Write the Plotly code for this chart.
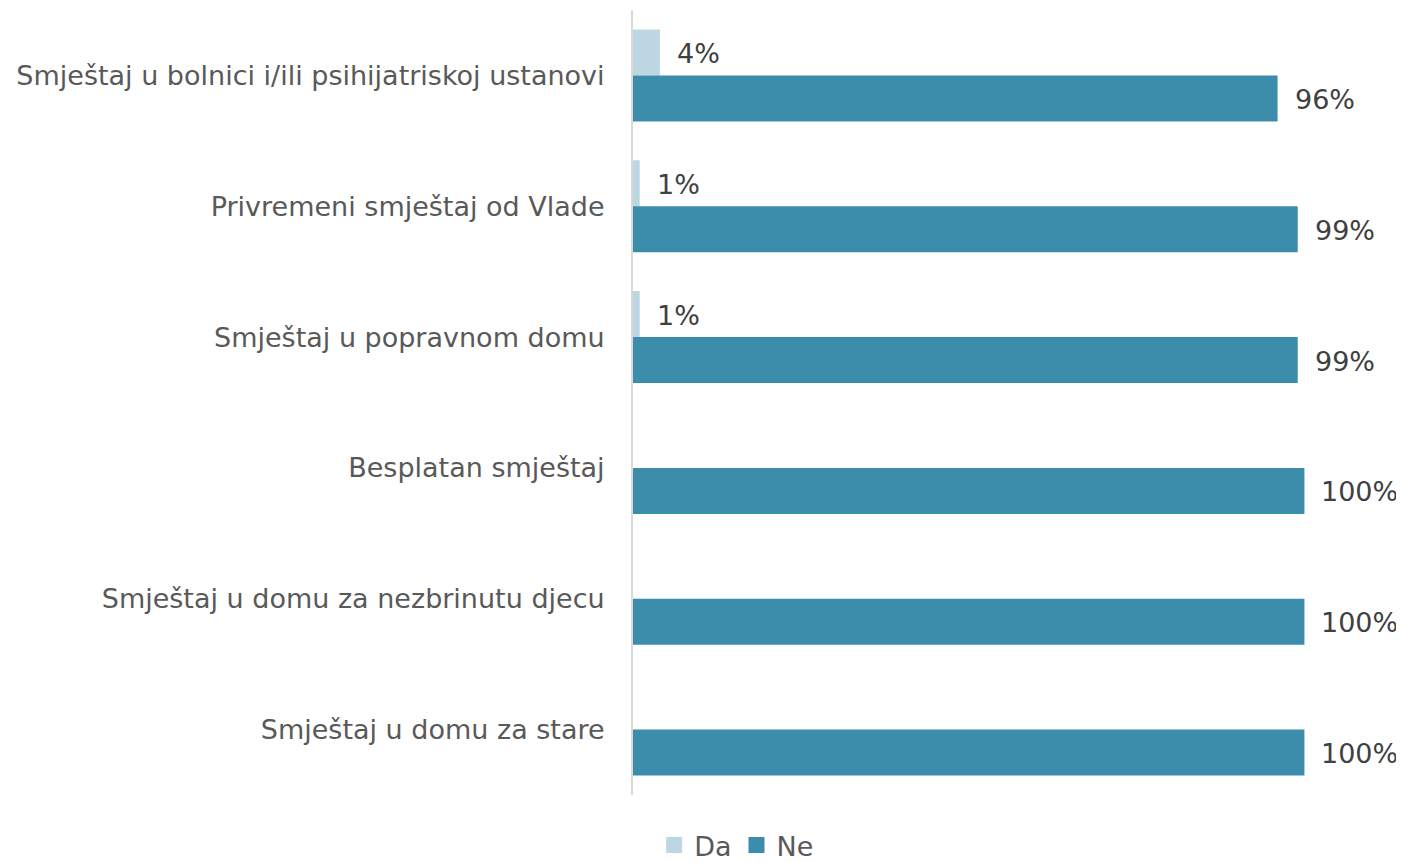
import plotly.graph_objects as go

categories = [
    "Smještaj u bolnici i/ili psihijatriskoj ustanovi",
    "Privremeni smještaj od Vlade",
    "Smještaj u popravnom domu",
    "Besplatan smještaj",
    "Smještaj u domu za nezbrinutu djecu",
    "Smještaj u domu za stare",
]
da_values = [4, 1, 1, 0, 0, 0]
ne_values = [96, 99, 99, 100, 100, 100]
series_names = ["Da", "Ne"]
colors = ["#BDD7E2", "#3C8DAB"]

FONT = "DejaVu Sans, sans-serif"
FS = 27

fig = go.Figure()
for name, vals, col in zip(series_names, [da_values, ne_values], colors):
    fig.add_trace(go.Bar(
        y=categories, x=vals, name=name, orientation="h",
        marker=dict(color=col, line=dict(width=0)), showlegend=False,
    ))
for name, col in zip(series_names, colors):
    fig.add_trace(go.Scatter(
        x=[None], y=[None], mode="markers", name=name,
        marker=dict(color=col, symbol="square", size=18),
    ))

annotations = []
for ti, vals in enumerate([da_values, ne_values]):
    for i, (c, v) in enumerate(zip(categories, vals)):
        if v == 0:
            continue
        annotations.append(dict(
            x=v, y=i + (-0.176 if ti == 0 else 0.176), xref="x", yref="y",
            text=f"{v}%", showarrow=False, xanchor="left", yanchor="middle",
            xshift=15, yshift=-1, font=dict(size=FS, color="#404040", family=FONT),
        ))

# page body has an 8px default margin; compensate
fig.update_layout(
    width=1404, height=862,
    margin=dict(l=625, r=74, t=2, b=75, autoexpand=False),
    barmode="group", bargap=0.297, bargroupgap=0,
    plot_bgcolor="white", paper_bgcolor="white",
    font=dict(family=FONT, size=FS, color="#595959"),
    legend=dict(orientation="h", x=0.03, xanchor="left",
                yref="container", y=-0.011, yanchor="bottom",
                font=dict(size=FS, color="#595959"), traceorder="normal",
                itemwidth=30, tracegroupgap=0),
    annotations=annotations,
    showlegend=True,
)
fig.update_xaxes(range=[0, 105], visible=False, showgrid=False, zeroline=False)
fig.update_yaxes(
    autorange="reversed", showline=True, linecolor="#D9D9D9", linewidth=2,
    ticks="", ticklabelstandoff=21, showgrid=False, zeroline=False, automargin=False,
    tickfont=dict(size=FS, color="#595959", family=FONT),
    type="category", categoryorder="array", categoryarray=categories,
)

fig.write_html("out.html")
